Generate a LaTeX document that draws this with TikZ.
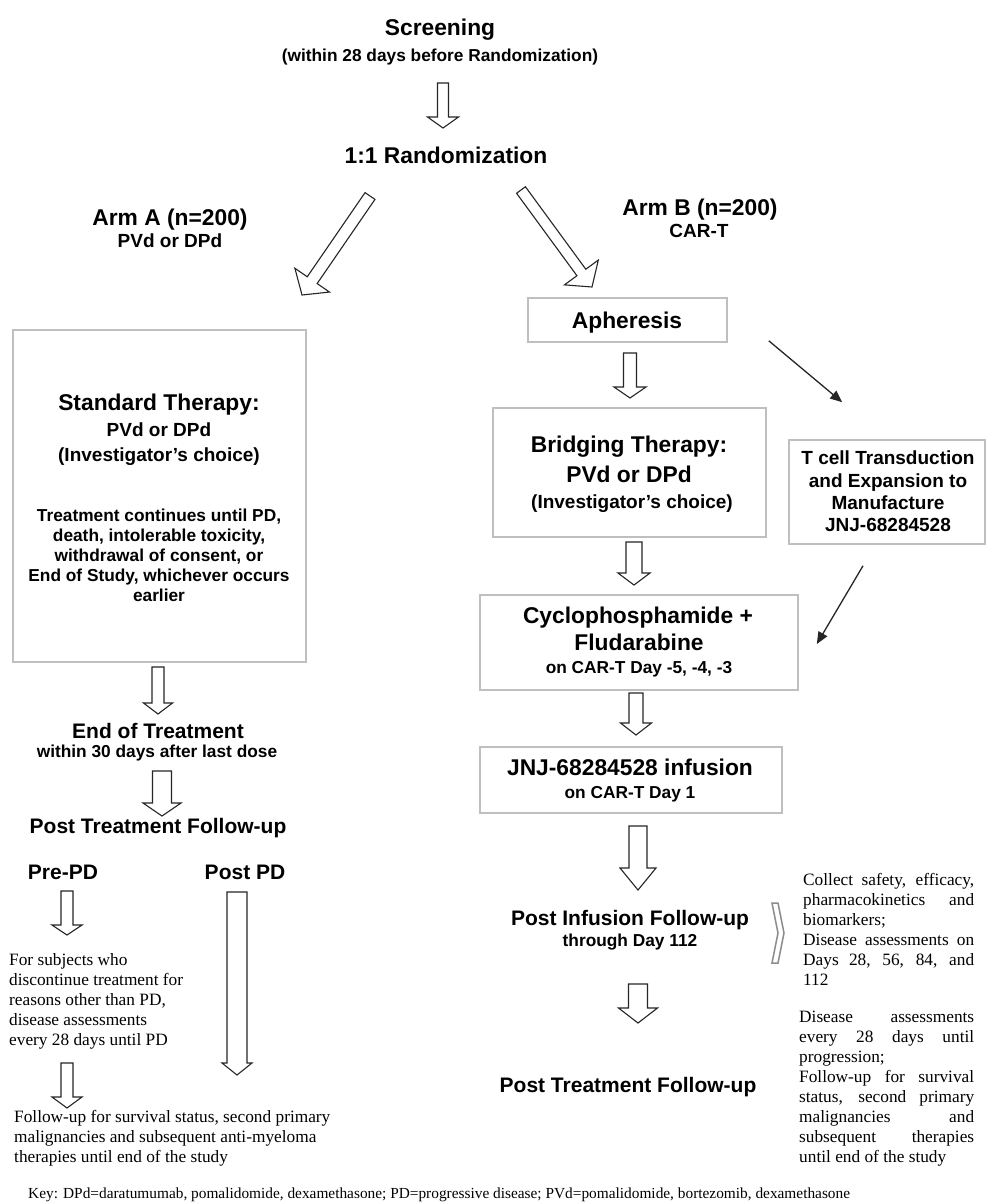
\documentclass[tikz,border=0pt]{standalone}
\usepackage{fontspec}
\setmainfont{Liberation Serif}
\setsansfont{Liberation Sans}
\usetikzlibrary{calc,arrows.meta}

% hollow block arrow: half shaft, half head, head length, from, to
\newcommand{\blockarrow}[5]{%
  \coordinate (ba-base) at ($(#5)!#3!(#4)$);
  \draw[blockline]
    ($(#4)!#1!90:(#5)$) -- ($(ba-base)!#1!90:(#5)$) -- ($(ba-base)!#2!90:(#5)$)
    -- (#5)
    -- ($(ba-base)!#2!-90:(#5)$) -- ($(ba-base)!#1!-90:(#5)$)
    -- ($(#4)!#1!-90:(#5)$) -- cycle;}

\tikzset{
  blockline/.style={draw=black!85, line width=1.1pt, fill=white},
  box/.style={draw=black!25, line width=1.6pt, inner sep=0pt},
  thinarrow/.style={draw=black!85, line width=1.3pt, -{Triangle[length=12pt, width=10pt]}},
  hbig/.style={font=\sffamily\bfseries\fontsize{22.8}{26}\selectfont, inner sep=0pt},
  hmid/.style={font=\sffamily\bfseries\fontsize{21}{24}\selectfont, inner sep=0pt},
  hsub/.style={font=\sffamily\bfseries\fontsize{19}{22.3}\selectfont, inner sep=0pt, align=center},
  hsmall/.style={font=\sffamily\bfseries\fontsize{17.3}{20}\selectfont, inner sep=0pt, align=center},
  note/.style={font=\fontsize{17.3}{20}\selectfont, inner sep=0pt, align=left},
  keytext/.style={font=\fontsize{15.35}{18}\selectfont, inner sep=0pt}
}

\begin{document}
\begin{tikzpicture}[x=1pt, y=-1pt]
  \fill[white] (0,0) rectangle (990,1202);
  \useasboundingbox (0,0) rectangle (990,1202);

  % ---- screening and randomization ----
  \node[hbig, anchor=base]   (scr)    at (440,35)  {Screening};
  \node[hsmall, anchor=base] (scrwin) at (440,61)  {(within 28 days before Randomization)};
  \node[hbig, anchor=base]   (rand)   at (446,163) {1:1 Randomization};

  % ---- arm A ----
  \node[hbig, anchor=base] (armA)   at (170,225) {Arm A (n=200)};
  \node[hsub, anchor=base] (armAtx) at (170,247) {PVd or DPd};

  \node[box, minimum width=293pt, minimum height=332pt] (stdbox) at (159.5,496) {};
  \node[hbig, anchor=base] (stdtitle)  at (159,410) {Standard Therapy:};
  \node[hsub, anchor=base] (stdtx)     at (159,436) {PVd or DPd};
  \node[hsub, anchor=base] (stdchoice) at (159,461) {(Investigator’s choice)};
  \node[hsmall, anchor=north] (stdrule) at (159,508.5)
       {Treatment continues until PD,\\death, intolerable toxicity,\\withdrawal of consent, or\\End of Study, whichever occurs\\earlier};

  \node[hmid, anchor=base]   (eot)    at (158,738) {End of Treatment};
  \node[hsmall, anchor=base] (eotwin) at (157,757) {within 30 days after last dose};
  \node[hmid, anchor=base]   (ptfA)   at (158,833) {Post Treatment Follow-up};
  \node[hmid, anchor=base]   (prepd)  at (63,879)  {Pre-PD};
  \node[hmid, anchor=base]   (postpd) at (245,879) {Post PD};

  \node[note, anchor=north west] (prepdtx) at (9,953)
       {For subjects who\\discontinue treatment for\\reasons other than PD,\\disease assessments\\every 28 days until PD};
  \node[note, anchor=north west] (fuA) at (14,1110)
       {Follow-up for survival status, second primary\\malignancies and subsequent anti-myeloma\\therapies until end of the study};

  % ---- arm B ----
  \node[hbig, anchor=base] (armB)   at (700,215) {Arm B (n=200)};
  \node[hsub, anchor=base] (armBtx) at (699,237) {CAR-T};

  \node[box, minimum width=199pt, minimum height=44pt] (aph) at (627.5,320) {};
  \node[hbig, anchor=base] (aphtx) at (627,328) {Apheresis};

  \node[box, minimum width=273pt, minimum height=129pt] (brg) at (629.5,472.5) {};
  \node[hbig, anchor=base] (brgtitle)  at (629,452) {Bridging Therapy:};
  \node[hbig, anchor=base] (brgtx)     at (629,482) {PVd or DPd};
  \node[hsub, anchor=base] (brgchoice) at (632,508) {(Investigator’s choice)};

  \node[box, minimum width=196pt, minimum height=104pt] (tcell) at (887,492) {};
  \node[hsub, anchor=north] (tcelltx) at (888,451)
       {T cell Transduction\\and Expansion to\\Manufacture\\JNJ-68284528};

  \node[box, minimum width=318pt, minimum height=95pt] (cyc) at (639,642.5) {};
  \node[hbig, anchor=base]   (cyctitle) at (638,623) {Cyclophosphamide +};
  \node[hbig, anchor=base]   (cyctx)    at (639,650) {Fludarabine};
  \node[hsmall, anchor=base] (cycday)   at (639,673) {on CAR-T Day -5, -4, -3};

  \node[box, minimum width=302pt, minimum height=66pt] (inf) at (631,780) {};
  \node[hbig, anchor=base]   (inftitle) at (630,775) {JNJ-68284528 infusion};
  \node[hsmall, anchor=base] (infday)   at (630,798) {on CAR-T Day 1};

  \node[hmid, anchor=base]   (pif)    at (630,925)  {Post Infusion Follow-up};
  \node[hsmall, anchor=base] (pifday) at (630,946)  {through Day 112};
  \node[hmid, anchor=base]   (ptfB)   at (628,1092) {Post Treatment Follow-up};

  \node[note, anchor=north west] (piftx) at (803,873)
       {\makebox[171pt][s]{Collect safety, efficacy,}\\\makebox[171pt][s]{pharmacokinetics and}\\biomarkers;\\\makebox[171pt][s]{Disease assessments on}\\\makebox[171pt][s]{Days 28, 56, 84, and}\\112};
  \node[note, anchor=north west] (ptftx) at (799,1011)
       {\makebox[175pt][s]{Disease assessments}\\\makebox[175pt][s]{every 28 days until}\\progression;\\\makebox[175pt][s]{Follow-up for survival}\\\makebox[175pt][s]{status, second primary}\\\makebox[175pt][s]{malignancies and}\\\makebox[175pt][s]{subsequent therapies}\\until end of the study};

  % bracket pointing at the follow-up notes
  \draw[black!45, line width=1.5pt, line join=miter]
    (772,903) -- (778,903) -- (784,933) -- (778,963) -- (772,963) -- (778,933) -- cycle;

  \node[keytext, anchor=base west] (key) at (28,1198)
       {Key: DPd=daratumumab, pomalidomide, dexamethasone; PD=progressive disease; PVd=pomalidomide, bortezomib, dexamethasone};

  % ---- hollow block arrows between the stages ----
  \foreach \nm/\x/\ya/\yb in {scr/443/83/128, std/158/667/714, eot/162/771/816,
      pre/67/891/935, preb/67/1063/1108, post/237/892/1075, aph/630/353/398,
      brg/634/542/585, cyc/636/693/735, inf/638/826/890, pif/638/984/1023}
    {\coordinate (\nm-top) at (\x,\ya); \coordinate (\nm-tip) at (\x,\yb);}
  \coordinate (armA-top) at (370,196); \coordinate (armA-tip) at (302,295);
  \coordinate (armB-top) at (521,190); \coordinate (armB-tip) at (592,287);

  \blockarrow{5.5pt}{15.5pt}{11pt}{scr-top}{scr-tip}
  \blockarrow{6pt}{21pt}{18pt}{armA-top}{armA-tip}
  \blockarrow{5.5pt}{21pt}{18pt}{armB-top}{armB-tip}
  \blockarrow{6pt}{14.5pt}{11pt}{std-top}{std-tip}
  \blockarrow{9.5pt}{19pt}{13pt}{eot-top}{eot-tip}
  \blockarrow{6pt}{15pt}{10pt}{pre-top}{pre-tip}
  \blockarrow{6pt}{15pt}{11pt}{preb-top}{preb-tip}
  \blockarrow{10pt}{15pt}{12pt}{post-top}{post-tip}
  \blockarrow{6.5pt}{16pt}{11pt}{aph-top}{aph-tip}
  \blockarrow{8pt}{16pt}{12pt}{brg-top}{brg-tip}
  \blockarrow{7pt}{15.5pt}{12pt}{cyc-top}{cyc-tip}
  \blockarrow{9pt}{18pt}{22pt}{inf-top}{inf-tip}
  \blockarrow{9.5pt}{19.5pt}{15pt}{pif-top}{pif-tip}

  % ---- cell manufacturing side branch ----
  \draw[thinarrow] ($(aph.south east)+(41,-2)$) -- ($(tcell.north west)+(54,-37)$);
  \draw[thinarrow] ($(tcell.south)+(-24,21)$) -- ($(cyc.east)+(18,1.5)$);
\end{tikzpicture}
\end{document}
